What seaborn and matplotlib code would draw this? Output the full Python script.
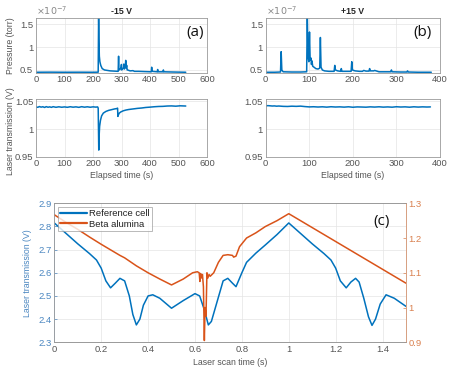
import numpy as np
import pandas as pd
import seaborn as sns
import matplotlib.pyplot as plt

# ---- data ----
# (a) -15 V : pressure (x1e-7 torr) and laser transmission vs elapsed time
a_press_t = [0, 50, 100, 150, 200, 218, 219.5, 220.5, 222, 224, 227, 232, 240, 260, 288, 289.5,
             290.5, 293, 298, 299.5, 300.5, 303, 307, 308, 309.5, 313, 314.5, 316, 318, 319.5,
             321, 330, 340, 345, 360, 380, 404, 405.5, 407, 425, 426.5, 428, 445, 446.5, 448, 480, 525]
a_press_v = [0.45, 0.452, 0.45, 0.451, 0.45, 0.452, 1.7, 1.2, 0.8, 0.68, 0.6, 0.53, 0.5, 0.48, 0.47,
             0.8, 0.52, 0.5, 0.55, 0.62, 0.5, 0.52, 0.55, 0.63, 0.52, 0.55, 0.71, 0.55, 0.6, 0.5,
             0.5, 0.48, 0.485, 0.47, 0.47, 0.465, 0.46, 0.56, 0.47, 0.46, 0.51, 0.46, 0.46, 0.5,
             0.46, 0.455, 0.45]

a_laser_t = [0, 6, 12, 18, 24, 30, 36, 42, 48, 54, 60, 70, 80, 90, 100, 110, 120, 130, 140, 150,
             160, 170, 180, 190, 200, 210, 216, 218, 220, 221, 223, 226, 230, 236, 245, 255, 265,
             275, 283, 286, 287, 289, 292, 297, 305, 315, 325, 340, 355, 370, 385, 400, 415, 430,
             445, 460, 475, 490, 505, 515, 525]
a_laser_v = [1.040, 1.0395, 1.0408, 1.0398, 1.0405, 1.0392, 1.0407, 1.0396, 1.0403, 1.0394,
             1.0406, 1.0395, 1.0404, 1.0396, 1.0402, 1.0395, 1.0405, 1.0397, 1.0403, 1.0394,
             1.0406, 1.0397, 1.0404, 1.0396, 1.0403, 1.0398, 1.0402, 1.038, 0.962, 0.985,
             1.005, 1.016, 1.024, 1.029, 1.032, 1.034, 1.0352, 1.0365, 1.0372, 1.038,
             1.023, 1.026, 1.029, 1.031, 1.033, 1.0345, 1.0355, 1.0365, 1.0375, 1.0382,
             1.0392, 1.0398, 1.0405, 1.041, 1.0412, 1.0418, 1.042, 1.0415, 1.0422, 1.042, 1.0418]

# (b) +15 V
b_press_t = [0, 20, 34, 35.5, 37, 40, 60, 80, 94, 95.5, 97, 99, 100.5, 102, 104, 105, 106, 108,
             111, 115, 120, 124, 125.5, 127, 130, 135, 145, 157, 158.5, 160, 165, 172, 173.5, 175,
             185, 196, 197.5, 199, 205, 215, 222, 225, 230, 237, 238.5, 240, 248, 250, 260, 287,
             288.5, 290, 310, 324, 325.5, 327, 350, 380]
b_press_v = [0.45, 0.45, 0.455, 0.9, 0.5, 0.46, 0.455, 0.455, 0.46, 1.7, 0.8, 0.68, 1.33, 0.72,
             0.76, 0.62, 0.7, 0.58, 0.56, 0.53, 0.52, 0.54, 1.21, 0.56, 0.5, 0.48, 0.47, 0.47,
             0.6, 0.5, 0.48, 0.47, 0.53, 0.47, 0.47, 0.47, 0.68, 0.5, 0.48, 0.47, 0.47, 0.49,
             0.475, 0.475, 0.53, 0.48, 0.48, 0.49, 0.46, 0.46, 0.5, 0.46, 0.455, 0.455, 0.48,
             0.455, 0.45, 0.45]

b_laser_t = [0, 5, 10, 15, 20, 25, 30, 40, 50, 60, 70, 80, 90, 100, 110, 120, 130, 140, 150, 160,
             170, 180, 190, 200, 210, 220, 230, 240, 250, 260, 270, 280, 290, 300, 310, 320, 330,
             340, 350, 360, 370, 378]
b_laser_v = [1.042, 1.0425, 1.0422, 1.0418, 1.042, 1.0415, 1.0418, 1.0412, 1.041, 1.0415,
             1.0412, 1.0416, 1.0408, 1.0402, 1.0405, 1.04, 1.0404, 1.0398, 1.0405, 1.04,
             1.0403, 1.0398, 1.0404, 1.0396, 1.0402, 1.04, 1.0397, 1.0403, 1.0399, 1.0404,
             1.0398, 1.0402, 1.0397, 1.0405, 1.04, 1.0403, 1.0397, 1.0404, 1.0399, 1.0403,
             1.04, 1.0402]

# (c) laser scan: reference cell (left axis) and beta alumina (right axis)
ref_t = [0, 0.05, 0.1, 0.15, 0.18, 0.2, 0.22, 0.24, 0.26, 0.28, 0.3, 0.32, 0.335, 0.35, 0.365,
         0.38, 0.4, 0.42, 0.45, 0.5, 0.55, 0.6, 0.62, 0.64, 0.657, 0.67, 0.69, 0.72, 0.74, 0.76,
         0.775, 0.8, 0.82, 0.86, 0.9, 0.95, 1.0, 1.05, 1.1, 1.15, 1.18, 1.2, 1.22, 1.245, 1.265,
         1.285, 1.3, 1.32, 1.34, 1.355, 1.37, 1.39, 1.415, 1.45, 1.5]
ref_v = [2.815, 2.77, 2.725, 2.683, 2.655, 2.62, 2.565, 2.535, 2.555, 2.576, 2.565, 2.5, 2.42,
         2.375, 2.4, 2.46, 2.5, 2.505, 2.49, 2.447, 2.48, 2.51, 2.5, 2.44, 2.375, 2.39, 2.46,
         2.565, 2.576, 2.555, 2.54, 2.6, 2.645, 2.685, 2.72, 2.765, 2.815, 2.77, 2.725, 2.683,
         2.655, 2.62, 2.565, 2.535, 2.56, 2.576, 2.56, 2.49, 2.41, 2.373, 2.4, 2.465, 2.505,
         2.49, 2.455]

beta_t = [0, 0.05, 0.1, 0.15, 0.2, 0.25, 0.28, 0.3, 0.35, 0.4, 0.45, 0.5, 0.55, 0.59, 0.61,
          0.618, 0.621, 0.624, 0.628, 0.632, 0.636, 0.64, 0.643, 0.647, 0.651, 0.655, 0.66,
          0.665, 0.68, 0.7, 0.72, 0.74, 0.76, 0.765, 0.775, 0.79, 0.82, 0.86, 0.9, 0.95, 1.0, 1.5]
beta_v = [1.267, 1.245, 1.225, 1.203, 1.182, 1.162, 1.15, 1.143, 1.12, 1.1, 1.082, 1.065, 1.082,
          1.1, 1.103, 1.1, 1.075, 1.098, 1.085, 1.095, 1.06, 0.905, 1.0, 0.975, 1.1, 1.085,
          1.095, 1.09, 1.1, 1.13, 1.15, 1.152, 1.15, 1.145, 1.148, 1.175, 1.2, 1.215, 1.233,
          1.25, 1.27, 1.07]

BLUE = '#0072BD'
ORANGE = '#D95319'
TXT = '#555555'
FS_TICK = 6.8
FS_LAB = 6.3

sns.set_style("whitegrid", {"grid.color": "#e4e4e4", "axes.edgecolor": "#9a9a9a"})
plt.rcParams['font.family'] = ['Liberation Sans', 'DejaVu Sans']
plt.rcParams['font.size'] = FS_TICK
plt.rcParams['axes.linewidth'] = 0.6
plt.rcParams['grid.linewidth'] = 0.5

fig = plt.figure(figsize=(4.57, 3.74), dpi=100)

ax_pa = fig.add_axes([0.0788, 0.8056, 0.3745, 0.1455])
ax_la = fig.add_axes([0.0788, 0.581, 0.3745, 0.155])
ax_pb = fig.add_axes([0.5814, 0.8056, 0.3814, 0.1455])
ax_lb = fig.add_axes([0.5814, 0.581, 0.3814, 0.155])
ax_c = fig.add_axes([0.1188, 0.0848, 0.7696, 0.3717])


def style(ax, color=TXT):
    ax.tick_params(direction='in', length=2.5, width=0.5, labelsize=FS_TICK, colors=color,
                   pad=2, top=False, right=False)
    for s in ax.spines.values():
        s.set_color('#9a9a9a')
        s.set_linewidth(0.6)


def line(ax, t, v, color, label=None):
    df = pd.DataFrame({'t': t, 'v': v})
    sns.lineplot(data=df, x='t', y='v', ax=ax, color=color, linewidth=1.1,
                 estimator=None, sort=False, label=label, legend=False)
    ax.set_xlabel('')
    ax.set_ylabel('')


# pressure panels (values in units of 1e-7 torr)
for ax, t, v, xmax, title, tag in [(ax_pa, a_press_t, a_press_v, 600, '-15 V', '(a)'),
                                   (ax_pb, b_press_t, b_press_v, 400, '+15 V', '(b)')]:
    line(ax, t, v, BLUE)
    ax.set_xlim(0, xmax)
    ax.set_ylim(0.44, 1.63)
    ax.set_yticks([0.5, 1.0, 1.5])
    ax.set_yticklabels(['0.5', '1', '1.5'])
    ax.set_xticks(np.arange(0, xmax + 1, 100))
    style(ax)
    ax.text(0.0, 1.02, r'$\times10^{-7}$', transform=ax.transAxes, fontsize=FS_TICK,
            color='#888888', ha='left', va='bottom')
    ax.set_title(title, fontsize=FS_LAB, fontweight='bold', pad=3)
    ax.text(0.93 if tag == '(a)' else 0.90, 0.73, tag, transform=ax.transAxes,
            fontsize=11, family='Open Sans', ha='center', va='center', color='#111111')

ax_pa.set_ylabel('Pressure (torr)', fontsize=FS_LAB, color=TXT)
ax_pa.yaxis.set_label_coords(-0.125, 0.5)

# laser transmission panels
for ax, t, v, xmax in [(ax_la, a_laser_t, a_laser_v, 600), (ax_lb, b_laser_t, b_laser_v, 400)]:
    line(ax, t, v, BLUE)
    ax.set_xlim(0, xmax)
    ax.set_ylim(0.95, 1.055)
    ax.set_yticks([0.95, 1.0, 1.05])
    ax.set_yticklabels(['0.95', '1', '1.05'])
    ax.set_xticks(np.arange(0, xmax + 1, 100))
    style(ax)
    ax.set_xlabel('Elapsed time (s)', fontsize=FS_LAB, color=TXT, labelpad=2)

ax_la.set_ylabel('Laser transmission (V)', fontsize=FS_LAB, color=TXT)
ax_la.yaxis.set_label_coords(-0.125, 0.44)

# (c) laser scan with two y axes
line(ax_c, ref_t, ref_v, BLUE, label='Reference cell')
ax_c.set_xlim(0, 1.5)
ax_c.set_ylim(2.3, 2.9)
ax_c.set_xticks([0, 0.2, 0.4, 0.6, 0.8, 1.0, 1.2, 1.4])
ax_c.set_xticklabels(['0', '0.2', '0.4', '0.6', '0.8', '1', '1.2', '1.4'])
style(ax_c)
ax_c.tick_params(axis='y', colors='#4a86c0')
ax_c.tick_params(axis='x', colors=TXT)
ax_c.set_xlabel('Laser scan time (s)', fontsize=FS_LAB, color=TXT, labelpad=3)
ax_c.set_ylabel('Laser transmission (V)', fontsize=FS_LAB, color='#4a86c0')
ax_c.yaxis.set_label_coords(-0.062, 0.5)

ax_r = ax_c.twinx()
line(ax_r, beta_t, beta_v, ORANGE, label='Beta alumina')
ax_r.set_ylim(0.9, 1.3)
ax_r.set_yticks([0.9, 1.0, 1.1, 1.2, 1.3])
ax_r.set_yticklabels(['0.9', '1', '1.1', '1.2', '1.3'])
ax_r.grid(False)
ax_r.tick_params(direction='in', length=2.5, width=0.5, labelsize=FS_TICK, colors='#d9804f', pad=2)
for s in ax_r.spines.values():
    s.set_color('#9a9a9a')
    s.set_linewidth(0.6)
ax_r.spines['right'].set_color('#e0a07c')
ax_c.spines['left'].set_color('#8fb3d6')

h1, l1 = ax_c.get_legend_handles_labels()
h2, l2 = ax_r.get_legend_handles_labels()
leg = ax_r.legend(h1 + h2, l1 + l2, loc='upper left', bbox_to_anchor=(0.01, 0.975),
                  fontsize=FS_TICK, frameon=True, fancybox=False, borderpad=0.25,
                  handlelength=2.8, handletextpad=0.3, labelspacing=0.15, borderaxespad=0)
leg.get_frame().set_edgecolor('#9a9a9a')
leg.get_frame().set_linewidth(0.6)
for txt in leg.get_texts():
    txt.set_color('#222222')
for lh in leg.get_lines():
    lh.set_linewidth(1.6)

ax_r.text(0.931, 0.868, '(c)', transform=ax_c.transAxes, fontsize=11, family='Open Sans',
          ha='center', va='center', color='#111111')

fig.savefig('out.png', dpi=100)
